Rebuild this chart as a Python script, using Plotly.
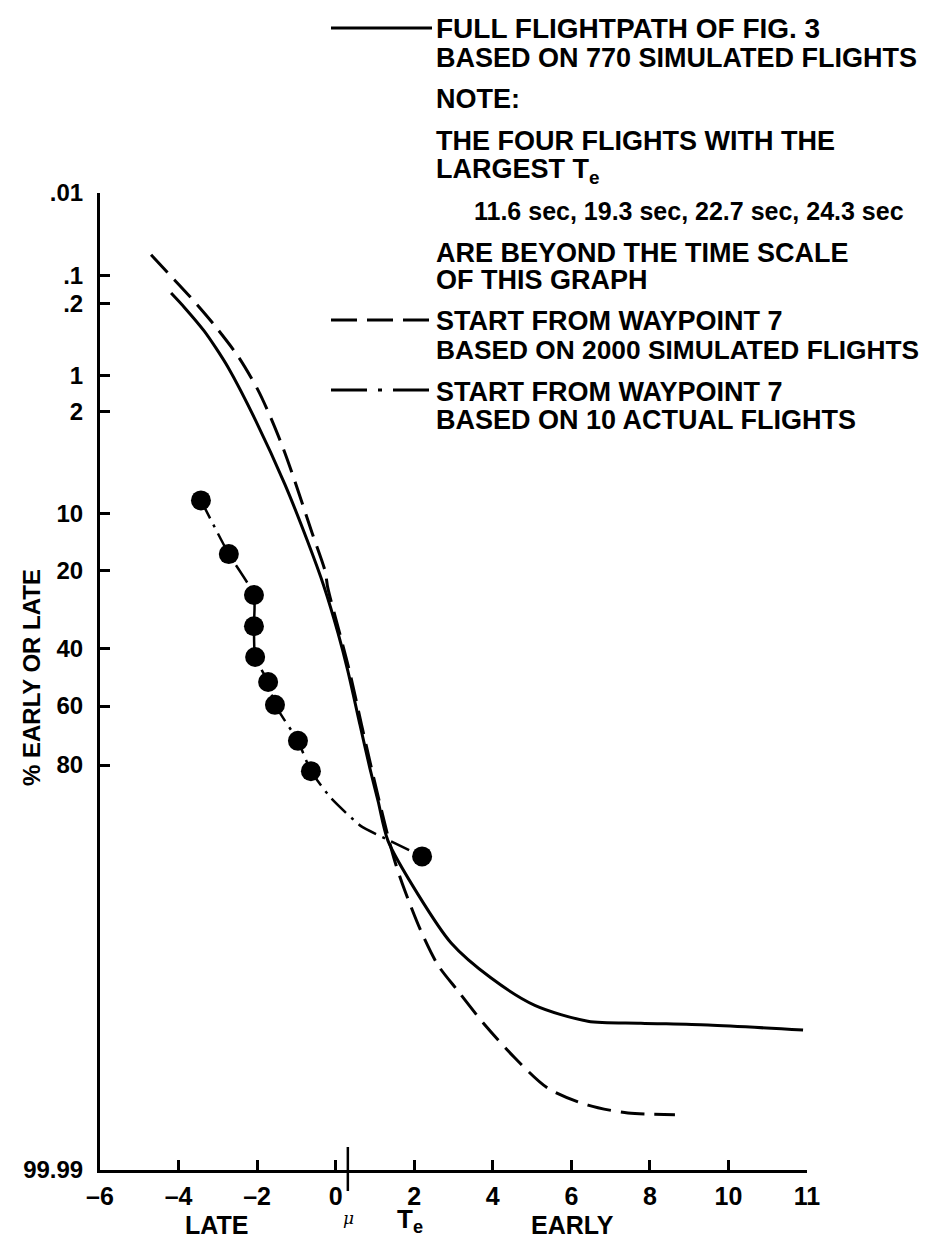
import numpy as np
import plotly.graph_objects as go
from statistics import NormalDist

# ---------------- data ----------------
# Full flightpath of Fig. 3, 770 simulated flights (solid)
SOLID_TE = [-4.19, -3.84, -3.35, -3.05, -2.73, -2.03, -1.29, -0.72, -0.30, 0.06, 0.31,
            0.62, 0.87, 1.08, 1.33, 2.10, 2.94, 3.95, 5.07, 6.42, 7.77, 9.48, 11.90]
SOLID_PCT = [0.155, 0.2225, 0.38, 0.555, 0.85, 2.37, 6.7, 14.2, 23.4, 35.6, 47.8,
             67.1, 80.6, 86.4, 91.6, 96.1, 98.24, 99.07, 99.46, 99.611, 99.627, 99.642, 99.678]

# Start from waypoint 7, 2000 simulated flights (dashed)
DASH_TE = [-4.70, -4.27, -3.68, -3.07, -2.49, -1.98, -1.65, -1.34, -1.04, -0.60,
           -0.27, -0.20, 0.10, 0.35, 0.66, 0.91, 1.11, 1.36,
           1.536, 1.765, 2.172, 2.605, 3.114, 3.801, 4.565, 5.405, 6.424, 7.442, 8.638]
DASH_PCT = [0.058, 0.0935, 0.175, 0.340, 0.661, 1.32, 2.24, 3.77, 6.35, 12.9,
            20.0, 23.8, 35.6, 47.8, 67.1, 80.6, 86.4, 91.6,
            93.97, 95.88, 97.84, 98.82, 99.28, 99.642, 99.827, 99.915, 99.944, 99.954, 99.956]

# Start from waypoint 7, 10 actual flights (dots, dash-dot)
ACTUAL_TE = [-3.43, -2.72, -2.08, -2.08, -2.05, -1.72, -1.545, -0.96, -0.63, 2.20]
ACTUAL_PCT = [8.4, 16.6, 25.5, 33.7, 43.0, 51.7, 59.6, 72.6, 81.2, 93.2]
# curved run of the dash-dot line between the ninth and tenth flight
TAIL_TE = [-0.12, 0.645, 1.28]
TAIL_PCT = [85.9, 89.9, 91.4]

MU = 0.31

X_TICK_VALS = [-6, -4, -2, 0, 2, 4, 6, 8, 10, 12]
X_TICK_TEXT = ["\u20136", "\u20134", "\u20132", "0", "2", "4", "6", "8", "10", "11"]
Y_TICK_PCT = [0.01, 0.1, 0.2, 1, 2, 10, 20, 40, 60, 80, 99.99]
Y_TICK_TEXT = [".01", ".1", ".2", "1", "2", "10", "20", "40", "60", "80", "99.99"]

# ---------------- probability-paper scale ----------------
ND = NormalDist()
NOMINAL = [ND.inv_cdf(p / 100.0) for p in Y_TICK_PCT]
# where the printed ticks sit on the reference paper (probit units)
DRAWN = NOMINAL[:8] + [0.1865, 0.6357, NOMINAL[-1]]


def yprob(pcts):
    z = [ND.inv_cdf(p / 100.0) for p in pcts]
    return list(np.interp(z, NOMINAL, DRAWN))


# ---------------- layout geometry ----------------
W, H = 936, 1239
ML, MR, MT, MB = 92, 137, 185, 77
PW, PH = W - ML - MR, H - MT - MB


def px(x):
    return (x - ML) / PW


def py(y):
    return (H - MB - y) / PH


FONT = "Liberation Sans"

fig = go.Figure()
fig.add_trace(go.Scatter(
    x=SOLID_TE, y=yprob(SOLID_PCT), mode="lines",
    line=dict(color="black", width=3, shape="spline", smoothing=0.8),
    hoverinfo="skip"))
fig.add_trace(go.Scatter(
    x=DASH_TE, y=yprob(DASH_PCT), mode="lines",
    line=dict(color="black", width=3, dash="24px,10px", shape="spline", smoothing=0.8),
    hoverinfo="skip"))
line_x = ACTUAL_TE[:9] + TAIL_TE + ACTUAL_TE[9:]
line_p = ACTUAL_PCT[:9] + TAIL_PCT + ACTUAL_PCT[9:]
fig.add_trace(go.Scatter(
    x=line_x, y=yprob(line_p), mode="lines",
    line=dict(color="black", width=2.5, dash="20px,7px,3px,7px", shape="spline", smoothing=0.5),
    hoverinfo="skip"))
fig.add_trace(go.Scatter(
    x=ACTUAL_TE, y=yprob(ACTUAL_PCT), mode="markers",
    marker=dict(color="black", size=20), hoverinfo="skip"))

fig.update_xaxes(
    range=[-6, 12], tickmode="array", tickvals=X_TICK_VALS, ticktext=X_TICK_TEXT,
    showgrid=False, zeroline=False, showline=True, linewidth=3, linecolor="black",
    ticks="inside", ticklen=10, tickwidth=2.5, tickcolor="black",
    tickfont=dict(family=FONT, size=25, color="black", weight="bold"),
    ticklabelstandoff=2)
fig.update_yaxes(
    range=[NOMINAL[-1], NOMINAL[0]], tickmode="array", tickvals=yprob(Y_TICK_PCT),
    ticktext=Y_TICK_TEXT, showgrid=False, zeroline=False, showline=True, linewidth=3,
    linecolor="black", ticks="inside", ticklen=10, tickwidth=2.5, tickcolor="black",
    tickfont=dict(family=FONT, size=24, color="black", weight="bold"),
    ticklabelstandoff=9)

shapes = []
# mu marker on the time axis
shapes.append(dict(type="line", xref="x", yref="paper", x0=MU, x1=MU,
                   y0=py(1183), y1=py(1139), line=dict(color="black", width=2.5)))
# legend line samples
shapes.append(dict(type="line", xref="paper", yref="paper", x0=px(323), x1=px(424),
                   y0=py(20), y1=py(20), line=dict(color="black", width=3)))
shapes.append(dict(type="line", xref="paper", yref="paper", x0=px(323), x1=px(424),
                   y0=py(312), y1=py(312), line=dict(color="black", width=3, dash="26px,10px")))
shapes.append(dict(type="line", xref="paper", yref="paper", x0=px(323), x1=px(424),
                   y0=py(382), y1=py(382),
                   line=dict(color="black", width=3, dash="36px,11px,4px,11px")))

legfont = dict(family=FONT, size=27, color="black", weight="bold")
LEGEND_LINES = [
    (426, 20, "FULL FLIGHTPATH OF FIG. 3", 28),
    (426, 50, "BASED ON 770 SIMULATED FLIGHTS", 27),
    (426, 91, "NOTE:", 27),
    (426, 133, "THE FOUR FLIGHTS WITH THE", 27),
    (426, 163, "LARGEST T<sub>e</sub>", 27),
    (464, 203, "11.6 sec, 19.3 sec, 22.7 sec, 24.3 sec", 25),
    (426, 245, "ARE BEYOND THE TIME SCALE", 27),
    (426, 272, "OF THIS GRAPH", 27),
    (426, 313, "START FROM WAYPOINT 7", 27),
    (426, 342, "BASED ON 2000 SIMULATED FLIGHTS", 26.3),
    (426, 384, "START FROM WAYPOINT 7", 27),
    (426, 412, "BASED ON 10 ACTUAL FLIGHTS", 27),
]
annotations = []
for xx, yy, txt, sz in LEGEND_LINES:
    f = dict(legfont)
    f["size"] = sz
    annotations.append(dict(x=px(xx), y=py(yy), xref="paper", yref="paper",
                            xanchor="left", yanchor="middle", text=txt,
                            showarrow=False, font=f))

annotations.append(dict(x=px(23), y=py(670), xref="paper", yref="paper",
                        xanchor="center", yanchor="middle", textangle=-90,
                        text="% EARLY OR LATE", showarrow=False,
                        font=dict(family=FONT, size=24, color="black", weight="bold")))
annotations.append(dict(x=px(208), y=py(1217), xref="paper", yref="paper",
                        xanchor="center", yanchor="middle", text="LATE", showarrow=False,
                        font=dict(family=FONT, size=25, color="black", weight="bold")))
annotations.append(dict(x=px(564), y=py(1217), xref="paper", yref="paper",
                        xanchor="center", yanchor="middle", text="EARLY", showarrow=False,
                        font=dict(family=FONT, size=25, color="black", weight="bold")))
annotations.append(dict(x=px(340), y=py(1210), xref="paper", yref="paper",
                        xanchor="center", yanchor="middle", text="<i>\u03bc</i>", showarrow=False,
                        font=dict(family="DejaVu Serif", size=17, color="black")))
annotations.append(dict(x=px(387), y=py(1212), xref="paper", yref="paper",
                        xanchor="left", yanchor="middle", text="T<sub>e</sub>", showarrow=False,
                        font=dict(family=FONT, size=26, color="black", weight="bold")))

fig.update_layout(
    width=W, height=H, autosize=False,
    margin=dict(l=ML, r=MR, t=MT, b=MB, pad=0),
    paper_bgcolor="white", plot_bgcolor="white",
    showlegend=False, shapes=shapes, annotations=annotations,
)

fig.write_html("out.html")
